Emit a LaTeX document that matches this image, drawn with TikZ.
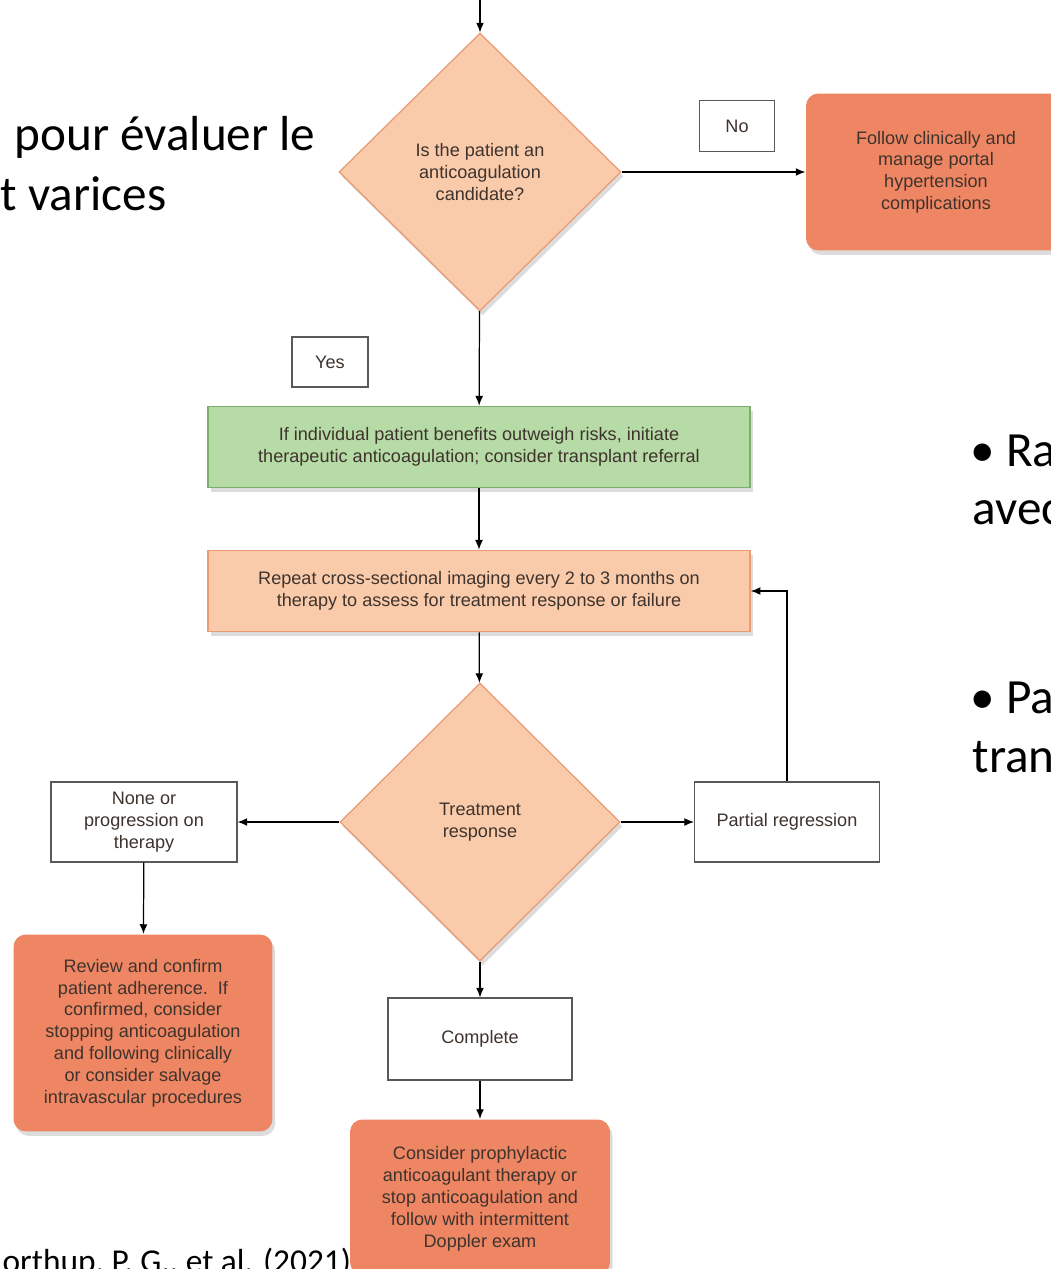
\documentclass[tikz,border=0pt]{standalone}
\usepackage{fontspec}
\setmainfont{Carlito}
\newfontfamily\chartfont{Liberation Sans}
\usepackage{tikz}
\usetikzlibrary{shapes.geometric,shadows,arrows.meta,positioning}
\definecolor{peach}{HTML}{F9CBAA}
\definecolor{peachline}{HTML}{E89B74}
\definecolor{leaf}{HTML}{B6DBA6}
\definecolor{leafline}{HTML}{7DAF6C}
\definecolor{coral}{HTML}{EF8663}
\definecolor{ink}{HTML}{3E332D}

\begin{document}
\begin{tikzpicture}[x=0.02cm, y=-0.02cm, >={Latex[length=5.5pt,width=4.5pt]}, line width=0.7pt,
    font=\chartfont\fontsize{10.3}{12.4}\selectfont]
  \tikzstyle{shade}=[drop shadow={shadow xshift=1.5pt, shadow yshift=-2.5pt, opacity=0.28}]
  \tikzstyle{decision}=[diamond, fill=peach, draw=peachline, text=ink, inner sep=0pt, align=center,
    minimum width=5.64cm, minimum height=5.56cm, shade]
  \tikzstyle{label box}=[rectangle, fill=white, draw=black!65, text=ink, align=center, line width=0.6pt]
  \tikzstyle{step box}=[rectangle, text=ink, align=center, minimum width=10.84cm, minimum height=1.62cm, line width=1pt, shade]
  \tikzstyle{outcome}=[rectangle, rounded corners=7pt, fill=coral, text=ink, align=center,
    minimum width=5.2cm, shade]
  \tikzstyle{slide}=[font=\fontsize{28}{34}\selectfont, text=black, inner sep=0pt, anchor=base west]
  \tikzstyle{flow}=[->, black]

  \useasboundingbox (0,0) rectangle (1051,1269);

  % slide text behind the chart
  \node[slide] (s1) at (14,150) {pour évaluer le};
  \node[slide] (s2) at (0,210)  {t varices};
  \node[slide] (s3) at (970,466) {• Ra};
  \node[slide] (s4) at (972,524) {avec};
  \node[slide] (s5) at (970,713) {• Pa};
  \node[slide] (s6) at (972,772) {tran};
  \node[slide, font=\fontsize{19}{22}\selectfont] (cite) at (2,1272) {orthup, P. G., et al. (2021)};

  \coordinate (start) at (480,0);
  \node[decision] (cand) at (480,172) {Is the patient an\\anticoagulation\\candidate?};
  \node[label box, minimum width=1.5cm, minimum height=1.02cm] (no) at (737,126) {No};
  \node[outcome, minimum height=3.14cm] (follow) at (936,172)
    {Follow clinically and\\manage portal\\hypertension\\complications};
  \node[label box, minimum width=1.52cm, minimum height=1cm] (yes) at (330,362) {Yes};
  \node[step box, fill=leaf, draw=leafline] (init) at (479,447)
    {If individual patient benefits outweigh risks, initiate\\therapeutic anticoagulation; consider transplant referral};
  \node[step box, fill=peach, draw=peachline] (repeat) at (479,591)
    {Repeat cross-sectional imaging every 2 to 3 months on\\therapy to assess for treatment response or failure};
  \node[decision, minimum width=5.6cm] (resp) at (480,822) {Treatment\\response};
  \node[label box, minimum width=3.72cm, minimum height=1.6cm] (none) at (144,822) {None or\\progression on\\therapy};
  \node[label box, minimum width=3.7cm, minimum height=1.6cm] (partial) at (787,822) {Partial regression};
  \node[outcome, minimum width=5.18cm, minimum height=3.94cm] (review) at (143,1033)
    {Review and confirm\\patient adherence.\ \ If\\confirmed, consider\\stopping anticoagulation\\and following clinically\\or consider salvage\\intravascular procedures};
  \node[label box, minimum width=3.68cm, minimum height=1.64cm] (complete) at (480,1039) {Complete};
  \node[outcome, minimum height=3.1cm, text depth=0pt] (proph) at (480,1197)
    {Consider prophylactic\\anticoagulant therapy or\\stop anticoagulation and\\follow with intermittent\\Doppler exam};

  \path[flow] (start) edge (cand.north)
        (cand) edge (follow)
        (cand) edge (init)
        (init) edge (repeat)
        (repeat) edge (resp)
        (resp) edge (none)
        (resp) edge (partial)
        (none) edge (review)
        (resp) edge (complete)
        (complete) edge (proph);
  \draw[flow] (partial.north) |- (repeat.east);
\end{tikzpicture}
\end{document}
